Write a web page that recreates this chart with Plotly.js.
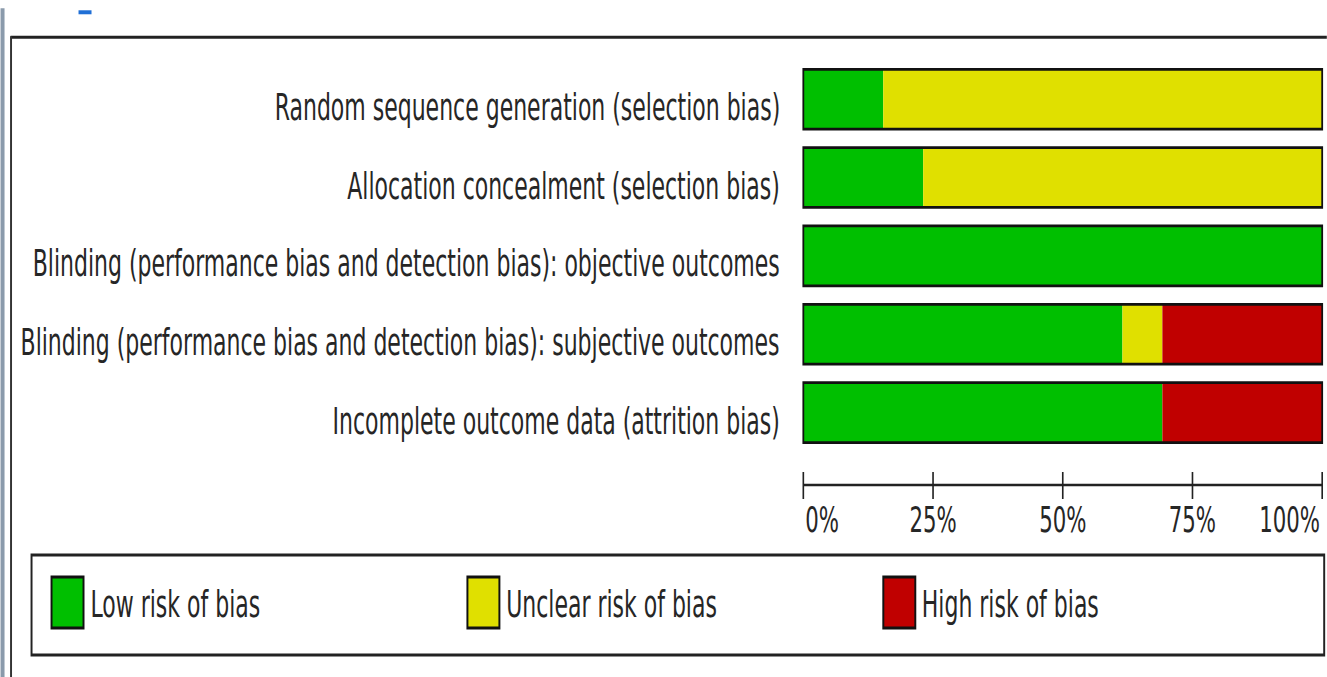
<!DOCTYPE html>
<html>
<head>
<meta charset="utf-8">
<script src="https://cdn.plot.ly/plotly-3.0.1.min.js"></script>
<style>
  html, body { margin: 0; padding: 0; background: #ffffff; overflow: hidden; }
  #wrap { width: 1327px; height: 677px; overflow: hidden; position: relative; }
  #chart { transform-origin: 0 0; }
</style>
</head>
<body>
<div id="wrap"><div id="chart"></div></div>
<script>
// ---- data ----
var categories = [
  "Random sequence generation (selection bias)",
  "Allocation concealment (selection bias)",
  "Blinding (performance bias and detection bias): objective outcomes",
  "Blinding (performance bias and detection bias): subjective outcomes",
  "Incomplete outcome data (attrition bias)"
];
var lowRisk     = [15.4, 23.1, 100, 61.5, 69.2];
var unclearRisk = [84.6, 76.9, 0, 7.7, 0];
var highRisk    = [0, 0, 0, 30.8, 30.8];
var tickValues  = [0, 25, 50, 75, 100];
var tickLabels  = ["0%", "25%", "50%", "75%", "100%"];
var seriesNames = ["Low risk of bias", "Unclear risk of bias", "High risk of bias"];

// ---- styling / geometry ----
var FONT = "Liberation Sans Narrow, Arial Narrow, DejaVu Sans Condensed, sans-serif";
var TXT = "#262626";
var colors = ["#00bf00", "#e0e000", "#c00000"];
var SX = 0.815, SY = 1.25;          // narrow, tall rendering like the reference
var W = Math.round(1327 / SX), H = Math.round(677 / SY);
var L = 800 / SX, R = W - 1325 / SX;
var plotTop = 59.75 / SY, plotBot = 485 / SY;
var T = plotTop, B = H - plotBot;
var plotH = plotBot - plotTop;
function xp(px) { return (px - 800) / 525; }
function yp(pyRef) { return (plotBot - pyRef / SY) / plotH; }

var chartDiv = document.getElementById("chart");
chartDiv.style.width = W + "px";
chartDiv.style.height = H + "px";
chartDiv.style.transform = "scale(" + SX + "," + SY + ")";

var baseUnclear = lowRisk.map(function (v) { return v; });
var baseHigh = lowRisk.map(function (v, i) { return v + unclearRisk[i]; });
var totals = lowRisk.map(function (v, i) { return v + unclearRisk[i] + highRisk[i]; });
var zeros = lowRisk.map(function () { return 0; });

var BW = 0.764;
function segTrace(vals, base, color, name) {
  return {
    type: "bar", orientation: "h", y: categories, x: vals, base: base,
    width: BW, name: name, marker: { color: color, line: { width: 0 } },
    hoverinfo: "skip", showlegend: false
  };
}
var traces = [
  segTrace(lowRisk, zeros, colors[0], seriesNames[0]),
  segTrace(unclearRisk, baseUnclear, colors[1], seriesNames[1]),
  segTrace(highRisk, baseHigh, colors[2], seriesNames[2]),
  {
    type: "bar", orientation: "h", y: categories, x: totals, base: zeros,
    width: BW, marker: { color: "rgba(0,0,0,0)", line: { color: "#111111", width: 2.2 } },
    hoverinfo: "skip", showlegend: false
  }
];

var shapes = [];
var annotations = [];

// frame
shapes.push({ type: "rect", xref: "paper", yref: "paper", x0: xp(0), x1: xp(4), y0: yp(8), y1: yp(680),
  fillcolor: "#8a9aab", line: { width: 0 } });
shapes.push({ type: "rect", xref: "paper", yref: "paper", x0: xp(78), x1: xp(91), y0: yp(10), y1: yp(14),
  fillcolor: "#1f6fd6", line: { width: 0 } });
shapes.push({ type: "line", xref: "paper", yref: "paper", x0: xp(10), x1: xp(1330), y0: yp(37), y1: yp(37),
  line: { color: "#222222", width: 2.5 } });
shapes.push({ type: "line", xref: "paper", yref: "paper", x0: xp(10.5), x1: xp(10.5), y0: yp(36), y1: yp(680),
  line: { color: "#333333", width: 2.4 } });

// x axis line, ticks and labels
shapes.push({ type: "line", xref: "x", yref: "paper", x0: tickValues[0], x1: tickValues[tickValues.length - 1],
  y0: yp(485), y1: yp(485), line: { color: "#222222", width: 2 } });
tickValues.forEach(function (v, i) {
  shapes.push({ type: "line", xref: "x", yref: "paper", x0: v, x1: v, y0: yp(472), y1: yp(499),
    line: { color: "#222222", width: 2 } });
  annotations.push({
    xref: "x", yref: "paper", x: v, y: yp(520), text: tickLabels[i], showarrow: false,
    xanchor: i === 0 ? "left" : (i === tickValues.length - 1 ? "right" : "center"),
    yanchor: "middle", font: { family: FONT, size: 29, color: TXT }
  });
});

// row labels
categories.forEach(function (c) {
  annotations.push({
    xref: "paper", yref: "y", x: xp(781), y: c, text: c, showarrow: false,
    xanchor: "right", yanchor: "middle", yshift: -6,
    font: { family: FONT, size: 30, color: TXT }
  });
});

// legend
shapes.push({ type: "rect", xref: "paper", yref: "paper", x0: xp(31), x1: xp(1324), y0: yp(555), y1: yp(655),
  fillcolor: "rgba(0,0,0,0)", line: { color: "#222222", width: 2.4 } });
var swatchX = [51, 467, 883];
seriesNames.forEach(function (n, i) {
  shapes.push({ type: "rect", xref: "paper", yref: "paper", x0: xp(swatchX[i]), x1: xp(swatchX[i] + 32),
    y0: yp(577), y1: yp(628), fillcolor: colors[i], line: { color: "#111111", width: 2.4 } });
  annotations.push({
    xref: "paper", yref: "paper", x: xp(swatchX[i] + 37), y: yp(604), text: n, showarrow: false,
    xanchor: "left", yanchor: "middle", font: { family: FONT, size: 30, color: TXT }
  });
});

var pxPerUnit = 519 / 100;
var xmin = -(803 - 800) / pxPerUnit;
var xmax = 100 + (1325 - 1322) / pxPerUnit;
var rowH = 78.5;
var yBottom = 4 + (485 - 412.5) / rowH;

var layout = {
  width: W, height: H,
  margin: { l: L, r: R, t: T, b: B, pad: 0 },
  paper_bgcolor: "#ffffff", plot_bgcolor: "#ffffff",
  barmode: "overlay", showlegend: false,
  xaxis: { range: [xmin, xmax], showticklabels: false, showgrid: false, zeroline: false, showline: false,
    ticks: "", fixedrange: true, automargin: false },
  yaxis: { type: "category", categoryorder: "array", categoryarray: categories,
    range: [yBottom, -0.5], showticklabels: false, showgrid: false, zeroline: false, showline: false,
    ticks: "", fixedrange: true, automargin: false },
  shapes: shapes,
  annotations: annotations,
  font: { family: FONT, color: TXT }
};

Plotly.newPlot("chart", traces, layout, { displayModeBar: false, staticPlot: true });
</script>
</body>
</html>
